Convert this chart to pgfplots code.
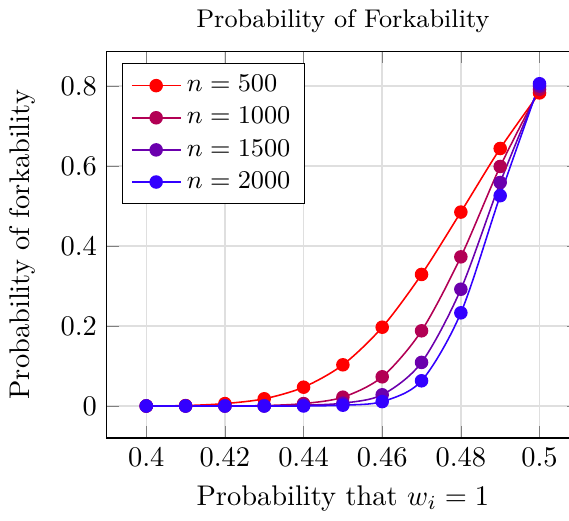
\documentclass[border=0pt]{standalone}
\usepackage{pgfplots}
\pgfplotsset{compat=1.18}
\definecolor{c0}{rgb}{1,0,0}
\definecolor{c1}{rgb}{0.7,0,0.33}
\definecolor{c2}{rgb}{0.42,0,0.68}
\definecolor{c3}{rgb}{0.2,0,1}
\begin{document}
\begin{tikzpicture}
\begin{axis}[scale only axis,width=166pt,height=136pt,
  xmin=0.39,xmax=0.51,ymin=-0.08,ymax=0.887,
  xtick={0.4,0.42,0.44,0.46,0.48,0.5},ytick={0,0.2,0.4,0.6,0.8},
  grid=major,grid style={gray!25,line width=0.5pt},
  title={Probability of Forkability},title style={font=\small,yshift=-3pt},
  xlabel={Probability that $w_i=1$},ylabel={Probability of forkability},
  ylabel style={yshift=2pt},
  legend style={at={(0.032,0.969)},anchor=north west,cells={anchor=west},font=\small},
  every axis plot/.append style={line width=0.55pt,smooth,mark=*,mark size=2.1pt}]
\addplot[c0,mark options={fill=c0}] coordinates {(0.40,0) (0.41,0.001) (0.42,0.006) (0.43,0.018) (0.44,0.047) (0.45,0.103) (0.46,0.197) (0.47,0.329) (0.48,0.485) (0.49,0.644) (0.50,0.783)};
\addlegendentry{$n=500$}
\addplot[c1,mark options={fill=c1}] coordinates {(0.40,0) (0.41,0) (0.42,0) (0.43,0.001) (0.44,0.006) (0.45,0.022) (0.46,0.073) (0.47,0.188) (0.48,0.373) (0.49,0.599) (0.50,0.792)};
\addlegendentry{$n=1000$}
\addplot[c2,mark options={fill=c2}] coordinates {(0.40,0) (0.41,0) (0.42,0) (0.43,0) (0.44,0.002) (0.45,0.007) (0.46,0.028) (0.47,0.109) (0.48,0.292) (0.49,0.559) (0.50,0.800)};
\addlegendentry{$n=1500$}
\addplot[c3,mark options={fill=c3}] coordinates {(0.40,0) (0.41,0) (0.42,0) (0.43,0) (0.44,0) (0.45,0.002) (0.46,0.011) (0.47,0.063) (0.48,0.233) (0.49,0.526) (0.50,0.806)};
\addlegendentry{$n=2000$}
\coordinate (R) at (axis cs:0.5075,0);
\end{axis}
\pgfresetboundingbox
\useasboundingbox (current axis.outer south west) rectangle (R |- current axis.outer north east);
\end{tikzpicture}
\end{document}
